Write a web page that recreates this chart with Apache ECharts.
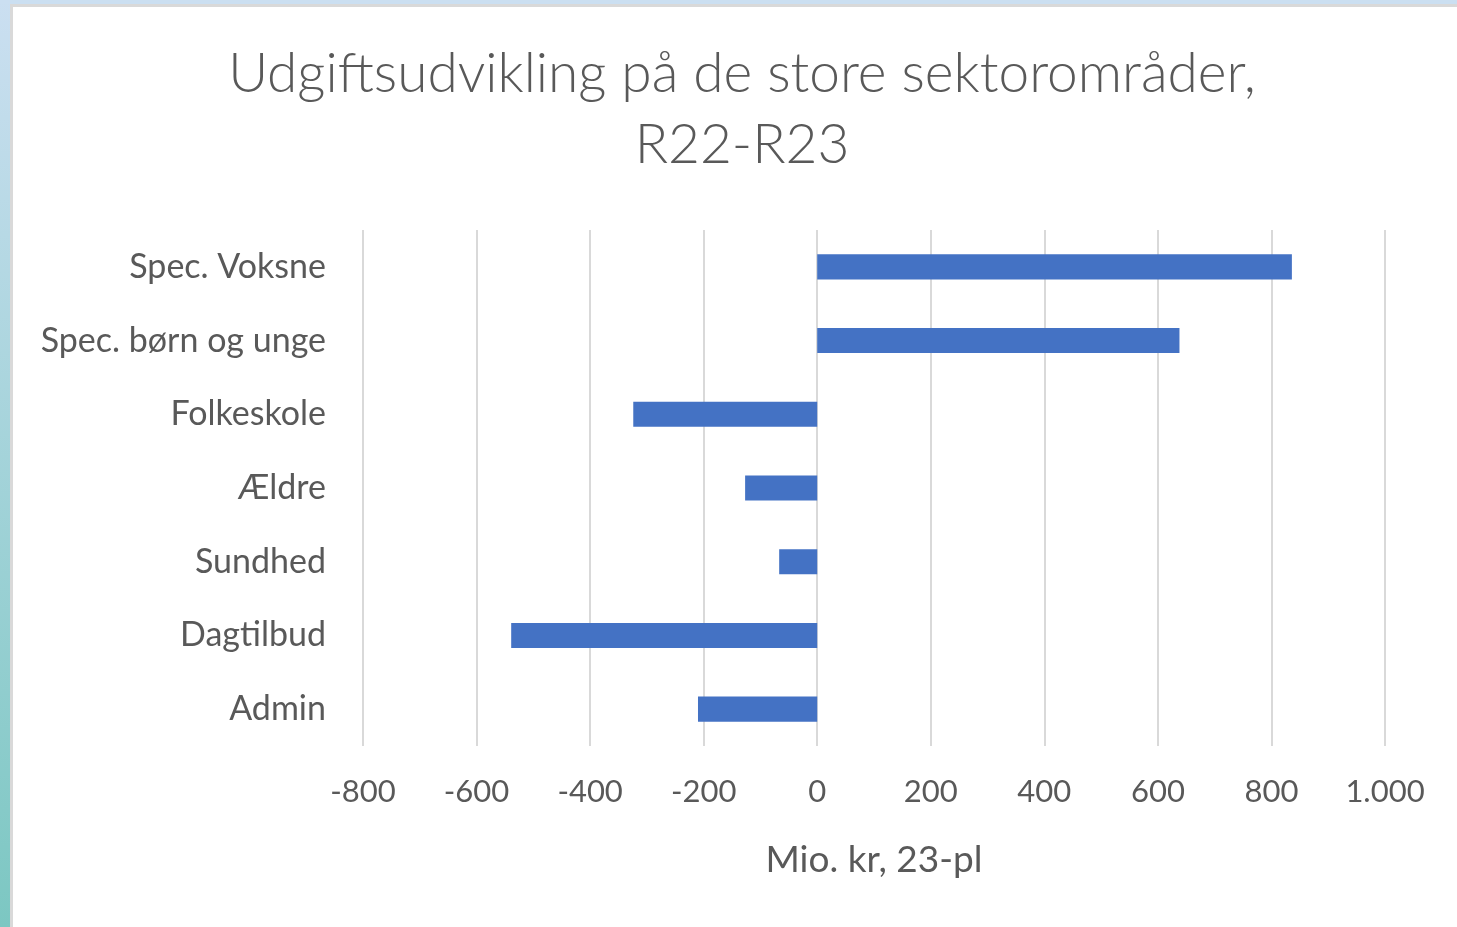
<!DOCTYPE html>
<html>
<head>
<meta charset="utf-8">
<script src="https://cdn.jsdelivr.net/npm/echarts@6/dist/echarts.min.js"></script>
<style>
html, body { margin: 0; padding: 0; background: #fff; }
#main { width: 1457px; height: 927px; }
</style>
</head>
<body>
<div id="main"></div>
<script>
// sektorområder, top til bund
var categories = ['Spec. Voksne', 'Spec. børn og unge', 'Folkeskole', 'Ældre', 'Sundhed', 'Dagtilbud', 'Admin'];
var values = [836, 638, -324, -127, -67, -539, -210];

var titleText = 'Udgiftsudvikling på de store sektorområder,\nR22-R23';
var axisTitle = 'Mio. kr, 23-pl';

var dom = document.getElementById('main');
var myChart = echarts.init(dom);

var fontName = 'Lato, "Noto Sans", sans-serif';

var option = {
	backgroundColor : '#ffffff',
	animation : false,
	title : {
		text : titleText,
		left : 737,
		textAlign : 'center',
		top : 34,
		textStyle : {
			fontFamily : fontName,
			fontSize : 55,
			fontWeight : 300,
			lineHeight : 71,
			color : '#595959'
		}
	},
	// ramme rundt om diagrammet
	graphic : [
		{
			type : 'rect',
			shape : { x : 0, y : 0, width : 10, height : 927 },
			style : {
				fill : new echarts.graphic.LinearGradient(0, 0, 0, 1, [
					{ offset : 0, color : '#cbdff1' },
					{ offset : 1, color : '#7cc7c2' }
				])
			},
			silent : true
		},
		{
			type : 'rect',
			shape : { x : 0, y : 0, width : 1457, height : 4 },
			style : { fill : '#cbdff1' },
			silent : true
		},
		{
			type : 'rect',
			shape : { x : 10, y : 4, width : 3, height : 923 },
			style : { fill : '#d9d9d9' },
			silent : true
		},
		{
			type : 'rect',
			shape : { x : 10, y : 4, width : 1447, height : 3 },
			style : { fill : '#d9d9d9' },
			silent : true
		}
	],
	grid : {
		left : 363,
		right : 72,
		top : 230,
		bottom : 181,
		containLabel : false
	},
	xAxis : {
		type : 'value',
		min : -800,
		max : 1000,
		interval : 200,
		name : axisTitle,
		nameLocation : 'middle',
		nameGap : 96,
		nameTextStyle : {
			fontFamily : fontName,
			fontSize : 37,
			color : '#595959'
		},
		axisLine : { show : false },
		axisTick : { show : false },
		axisLabel : {
			margin : 30,
			fontFamily : fontName,
			fontSize : 31,
			color : '#595959',
			formatter : function (v) {
				return v.toString().replace(/\B(?=(\d{3})+(?!\d))/g, '.');
			}
		},
		splitLine : {
			show : true,
			lineStyle : { color : '#d9d9d9', width : 2 }
		}
	},
	yAxis : {
		type : 'category',
		data : categories,
		inverse : true,
		axisLine : { show : false },
		axisTick : { show : false },
		axisLabel : {
			margin : 37,
			fontFamily : fontName,
			fontSize : 34,
			color : '#595959'
		},
		splitLine : { show : false }
	},
	series : [
		{
			type : 'bar',
			data : values,
			barCategoryGap : '66%',
			itemStyle : { color : '#4472c4' }
		}
	]
};

myChart.setOption(option, true);
</script>
</body>
</html>
